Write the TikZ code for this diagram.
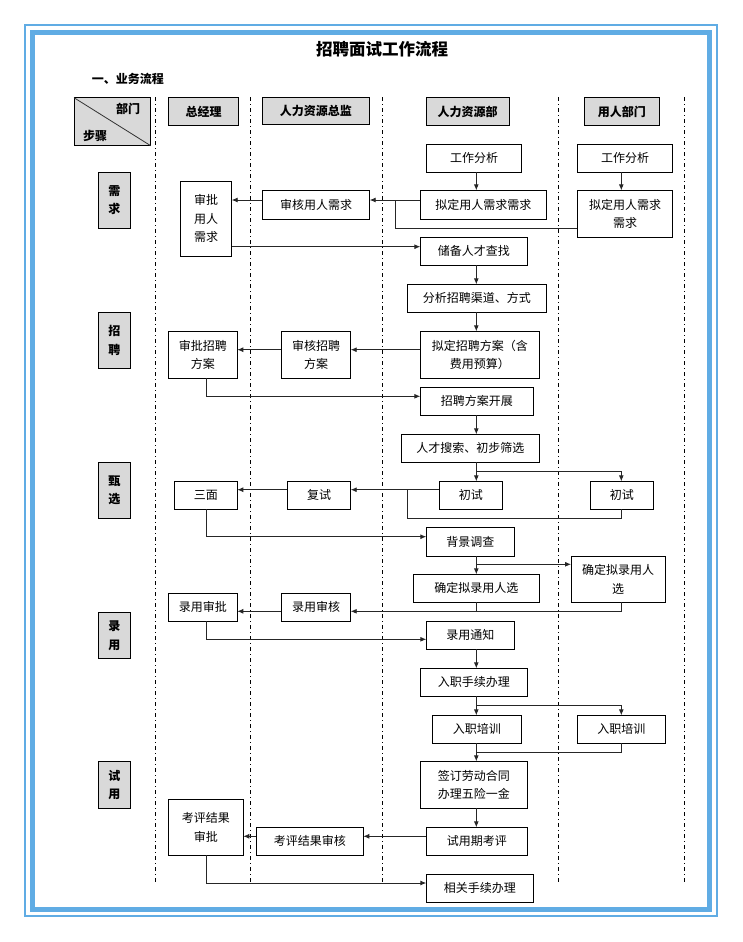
\documentclass[tikz,border=0pt]{standalone}
\usepackage{fontspec}
\setmainfont{Noto Sans CJK SC}
\usetikzlibrary{arrows.meta,calc}
\definecolor{frameblue}{RGB}{96,172,228}
\definecolor{hdrgray}{RGB}{217,217,217}
\begin{document}
\begin{tikzpicture}[x=1pt,y=-1pt,
  bx/.style={draw=black,line width=0.9pt,fill=white,inner sep=0pt,outer sep=0pt,font=\fontsize{12}{18.5}\selectfont,align=center},
  hdr/.style={bx,fill=hdrgray,font=\fontsize{12}{18.5}\selectfont\bfseries},
  stepbox/.style={hdr,minimum width=32pt},
  lane/.style={line width=0.9pt,dash pattern=on 4pt off 3pt on 1pt off 3pt},
  conn/.style={line width=0.9pt,draw=black!85},
  arr/.style={conn,-{Latex[length=6pt,width=5pt]}}
]
\useasboundingbox (0,0) rectangle (742,942);
% frame
\draw[frameblue,line width=2pt] (25,25) rectangle (716.5,916);
\draw[frameblue,line width=5pt] (32.5,32.5) rectangle (709.5,909.5);
% titles
\node[font=\fontsize{16.5}{18}\selectfont\bfseries] (title) at (382,49.3) {招聘面试工作流程};
\node[font=\fontsize{12}{14}\selectfont\bfseries] (sub) at (127.8,79) {一、业务流程};
% lanes
\foreach \lx/\nm in {155.5/l1,250.5/l2,382.7/l3,558.7/l4,684.3/l5}{
  \coordinate (\nm t) at (\lx,97);
  \coordinate (\nm b) at (\lx,882);
  \draw[lane] (\nm t) -- (\nm b);
}
% header
\node[hdr,minimum width=76.7pt,minimum height=48pt] (hc) at (112.35,121.7) {};
\draw[line width=0.8pt,black!80] (hc.north west) -- (hc.south east);
\node[font=\fontsize{12}{14}\selectfont\bfseries] (hbm) at (128,109) {部门};
\node[font=\fontsize{12}{14}\selectfont\bfseries] (hbz) at (95,135.7) {步骤};
\node[hdr,minimum width=70.4pt,minimum height=28.4pt] (hz) at (203.5,111.5) {总经理};
\node[hdr,minimum width=107pt,minimum height=27.4pt] (hj) at (315.8,111) {人力资源总监};
\node[hdr,minimum width=82.7pt,minimum height=28.4pt] (hr) at (467.7,111.5) {人力资源部};
\node[hdr,minimum width=75pt,minimum height=28.4pt] (hy) at (621.8,111.5) {用人部门};
% step labels
\node[stepbox,minimum height=56pt] (s1) at (114.3,200.3) {需\\求};
\node[stepbox,minimum height=56pt] (s2) at (114.3,340.3) {招\\聘};
\node[stepbox,minimum height=56pt] (s3) at (114.3,490.3) {甄\\选};
\node[stepbox,minimum height=46.4pt] (s4) at (114.3,635.5) {录\\用};
\node[stepbox,minimum height=47.4pt] (s5) at (114.3,785) {试\\用};
% boxes
\node[bx,minimum width=95.4pt,minimum height=28pt] (gf1) at (474,158.3) {工作分析};
\node[bx,minimum width=95.4pt,minimum height=28pt] (gf2) at (625,158.3) {工作分析};
\node[bx,minimum width=126pt,minimum height=29pt] (nd1) at (483.3,204.8) {拟定用人需求需求};
\node[bx,minimum width=95.4pt,minimum height=47pt] (nd2) at (625,213.8) {拟定用人需求\\需求};
\node[bx,minimum width=107.4pt,minimum height=29pt] (sh1) at (316,204.8) {审核用人需求};
\node[bx,minimum width=51.4pt,minimum height=75pt] (sp1) at (206,218.8) {审批\\用人\\需求};
\node[bx,minimum width=107pt,minimum height=28pt] (cb) at (473.8,251.3) {储备人才查找};
\node[bx,minimum width=139pt,minimum height=28pt] (fx) at (476.8,298.3) {分析招聘渠道、方式};
\node[bx,minimum width=119pt,minimum height=47pt] (nf) at (479.8,354.8) {拟定招聘方案（含\\费用预算）};
\node[bx,minimum width=69.4pt,minimum height=46.6pt] (shf) at (316,355) {审核招聘\\方案};
\node[bx,minimum width=69pt,minimum height=46.6pt] (spf) at (202.8,355) {审批招聘\\方案};
\node[bx,minimum width=113pt,minimum height=28pt] (kz) at (476.8,401.3) {招聘方案开展};
\node[bx,minimum width=138pt,minimum height=28pt] (ss) at (470.3,448.3) {人才搜索、初步筛选};
\node[bx,minimum width=63pt,minimum height=28pt] (cs1) at (470.8,495.3) {初试};
\node[bx,minimum width=63pt,minimum height=28pt] (cs2) at (621.8,495.3) {初试};
\node[bx,minimum width=63.4pt,minimum height=28pt] (fs) at (319,495.3) {复试};
\node[bx,minimum width=63pt,minimum height=28pt] (sm) at (205.8,495.3) {三面};
\node[bx,minimum width=88pt,minimum height=28.7pt] (bj) at (470.3,541.7) {背景调查};
\node[bx,minimum width=126pt,minimum height=28pt] (qd1) at (476.3,588.3) {确定拟录用人选};
\node[bx,minimum width=94.3pt,minimum height=46pt] (qd2) at (618.2,579.3) {确定拟录用人\\选};
\node[bx,minimum width=69.4pt,minimum height=28pt] (lysh) at (316,607.3) {录用审核};
\node[bx,minimum width=69pt,minimum height=28pt] (lysp) at (202.8,607.3) {录用审批};
\node[bx,minimum width=88pt,minimum height=28pt] (lytz) at (470.3,635.3) {录用通知};
\node[bx,minimum width=107pt,minimum height=28pt] (rzsx) at (473.8,682.3) {入职手续办理};
\node[bx,minimum width=89pt,minimum height=28pt] (px1) at (476.8,729.3) {入职培训};
\node[bx,minimum width=88pt,minimum height=28pt] (px2) at (621.3,729.3) {入职培训};
\node[bx,minimum width=107pt,minimum height=47pt] (qht) at (473.8,784.8) {签订劳动合同\\办理五险一金};
\node[bx,minimum width=101pt,minimum height=28pt] (sykp) at (476.8,841.3) {试用期考评};
\node[bx,minimum width=107pt,minimum height=28pt] (kpsh) at (309.8,841.3) {考评结果审核};
\node[bx,minimum width=75pt,minimum height=56pt] (kpsp) at (205.8,827.3) {考评结果\\审批};
\node[bx,minimum width=107pt,minimum height=28pt] (xg) at (479.8,888.3) {相关手续办理};
% spine coordinates
\coordinate (hx) at (476.3,0);
\coordinate (ux) at (621.3,0);
\coordinate (gx) at (206.3,0);
% connectors: 需求
\draw[arr] (gf1.south -| hx) -- (nd1.north -| hx);
\draw[arr] (gf2.south -| ux) -- (nd2.north -| ux);
\coordinate (y200) at (0,200);
\draw[arr] (nd1.west |- y200) -- (sh1.east |- y200);
\coordinate (j1) at (395.3,228.3);
\draw[conn] (nd2.west |- j1) -- (j1) -- (j1 |- y200);
\draw[arr] (sh1.west |- y200) -- (sp1.east |- y200);
\coordinate (y247) at (0,246.7);
\draw[arr] (sp1.east |- y247) -- (cb.west |- y247);
% 招聘
\draw[arr] (cb.south -| hx) -- (fx.north -| hx);
\draw[arr] (fx.south -| hx) -- (nf.north -| hx);
\coordinate (y350) at (0,349.7);
\draw[arr] (nf.west |- y350) -- (shf.east |- y350);
\draw[arr] (shf.west |- y350) -- (spf.east |- y350);
\coordinate (y396) at (0,396.3);
\draw[arr] (spf.south -| gx) -- (gx |- y396) -- (kz.west |- y396);
\draw[arr] (kz.south -| hx) -- (ss.north -| hx);
% 甄选
\coordinate (y471) at (0,471);
\draw[arr] (ss.south -| hx) -- (cs1.north -| hx);
\draw[arr] (hx |- y471) -- (ux |- y471) -- (cs2.north -| ux);
\coordinate (y490) at (0,489.7);
\draw[arr] (cs1.west |- y490) -- (fs.east |- y490);
\coordinate (j2) at (407.3,518.3);
\draw[conn] (cs2.south -| ux) -- (ux |- j2) -- (j2) -- (j2 |- y490);
\draw[arr] (fs.west |- y490) -- (sm.east |- y490);
\coordinate (y537) at (0,536.7);
\draw[arr] (sm.south -| gx) -- (gx |- y537) -- (bj.west |- y537);
\draw[arr] (bj.south -| hx) -- (qd1.north -| hx);
\coordinate (y564) at (0,564.3);
\draw[arr] (hx |- y564) -- (qd2.west |- y564);
% 录用
\coordinate (y611) at (0,611.3);
\draw[conn] (qd1.south -| hx) -- (hx |- y611);
\draw[arr] (qd2.south -| ux) -- (ux |- y611) -- (lysh.east |- y611);
\draw[arr] (lysh.west |- y611) -- (lysp.east |- y611);
\coordinate (y639) at (0,639.3);
\draw[arr] (lysp.south -| gx) -- (gx |- y639) -- (lytz.west |- y639);
\draw[arr] (lytz.south -| hx) -- (rzsx.north -| hx);
\coordinate (y706) at (0,705.7);
\draw[arr] (rzsx.south -| hx) -- (px1.north -| hx);
\draw[arr] (hx |- y706) -- (ux |- y706) -- (px2.north -| ux);
% 试用
\coordinate (y752) at (0,752.3);
\draw[arr] (px1.south -| hx) -- (qht.north -| hx);
\draw[conn] (px2.south -| ux) -- (ux |- y752) -- (hx |- y752);
\draw[arr] (qht.south -| hx) -- (sykp.north -| hx);
\coordinate (y836) at (0,836.3);
\draw[arr] (sykp.west |- y836) -- (kpsh.east |- y836);
\draw[arr] (kpsh.west |- y836) -- (kpsp.east |- y836);
\coordinate (y883) at (0,883);
\draw[arr] (kpsp.south -| gx) -- (gx |- y883) -- (xg.west |- y883);
\end{tikzpicture}
\end{document}
